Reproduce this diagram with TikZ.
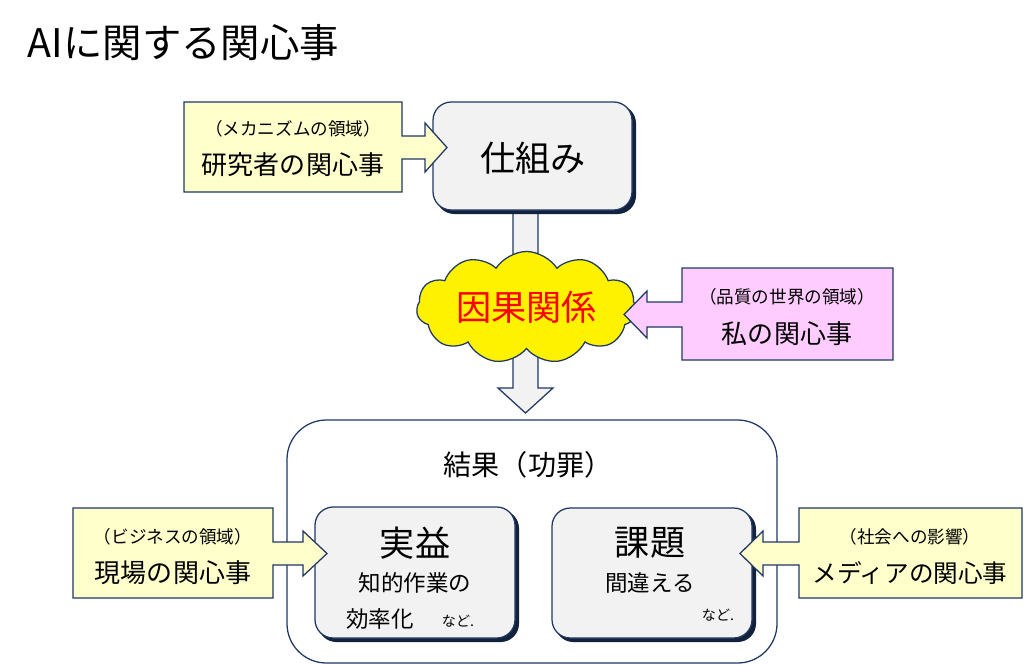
\documentclass[tikz,border=0pt]{standalone}
\usepackage{fontspec}
\setmainfont{Noto Sans CJK JP}
\usetikzlibrary{shapes.symbols}
\definecolor{navy}{HTML}{203864}
\definecolor{cream}{HTML}{FFFFCC}
\definecolor{pinky}{HTML}{FFCCFF}
\definecolor{boxgray}{HTML}{F2F2F2}
\tikzset{
  outline/.style={draw=navy, line width=0.9pt},
  callout/.style={outline, fill=cream},
  shadowbox/.style={fill=navy!60!black, rounded corners=13pt},
  graybox/.style={outline, fill=boxgray, rounded corners=13pt},
  big/.style={font=\fontsize{25}{28}\selectfont},
  mid/.style={font=\fontsize{18.5}{21}\selectfont},
  sub/.style={font=\fontsize{16}{19}\selectfont},
  small/.style={font=\fontsize{12.5}{15}\selectfont},
  tiny/.style={font=\fontsize{10}{12}\selectfont},
}
\begin{document}
\begin{tikzpicture}[x=0.025cm, y=-0.025cm]
  \useasboundingbox (0,0) rectangle (1024,664);
  %
  \node[anchor=west, font=\fontsize{28}{32}\selectfont] (title) at (23,43) {AIに関する関心事};
  %
  \draw[outline, rounded corners=28pt] (287,420) rectangle (777,663); % results frame
  %
  \draw[outline, fill=boxgray] (513,212) -- (538,212) -- (538,388) -- (553,388)
    -- (525.5,413) -- (498,388) -- (513,388) -- cycle;              % down arrow
  %
  \fill[shadowbox] (436,105) rectangle (636,214);                   % top box
  \draw[graybox] (433,102) rectangle (632,210);
  \node[big] (shikumi) at (533,158) {仕組み};
  %
  \node[cloud, cloud puffs=11, cloud puff arc=115, cloud ignores aspect,
    outline, fill=yellow, minimum width=5.5cm, minimum height=2.8cm,
    big, text=red] (inga) at (526.5,307.5) {因果関係};
  %
  \fill[shadowbox] (318,510) rectangle (519,642);                   % bottom boxes
  \draw[graybox] (315,507) rectangle (515,638);
  \fill[shadowbox] (555,511) rectangle (756,642);
  \draw[graybox] (552,508) rectangle (752,638);
  %
  \node[font=\fontsize{20}{24}\selectfont] (kekka) at (528,465) {結果（功罪）};
  \node[big] (jitsueki) at (415,543) {実益};
  \node[sub] (chiteki) at (415,583) {知的作業の};
  \node[sub] (kouritsu) at (380,619) {効率化};
  \node[tiny] (nado1) at (458,621) {など.};
  \node[big] (kadai) at (650,543) {課題};
  \node[sub] (machigai) at (650,583) {間違える};
  \node[tiny] (nado2) at (718,615) {など.};
  %
  \draw[callout] (184,102) -- (402,102) -- (402,136) -- (425,136) -- (425,123)
    -- (447,147.5) -- (425,172) -- (425,159) -- (402,159) -- (402,192)
    -- (184,192) -- cycle;                                          % researchers
  \node[small] (mecha) at (293,129) {（メカニズムの領域）};
  \node[mid] (kenkyu) at (293,165) {研究者の関心事};
  %
  \draw[callout, fill=pinky] (893,268) -- (893,360) -- (682,360) -- (682,327)
    -- (647,327) -- (647,338) -- (624,314.5) -- (647,291) -- (647,302)
    -- (682,302) -- (682,268) -- cycle;                             % mine
  \node[small] (hinshitsu) at (787,297) {（品質の世界の領域）};
  \node[mid] (watashi) at (787,334) {私の関心事};
  %
  \draw[callout] (73,508) -- (273,508) -- (273,542) -- (303,542) -- (303,531)
    -- (327,553.5) -- (303,576) -- (303,565) -- (273,565) -- (273,598)
    -- (73,598) -- cycle;                                           % business
  \node[small] (business) at (173,537) {（ビジネスの領域）};
  \node[mid] (genba) at (173,573) {現場の関心事};
  %
  \draw[callout] (1022,508) -- (1022,598) -- (799,598) -- (799,565) -- (763,565)
    -- (763,576) -- (740,553.5) -- (763,531) -- (763,542) -- (799,542)
    -- (799,508) -- cycle;                                          % media
  \node[small] (shakai) at (910,537) {（社会への影響）};
  \node[font=\fontsize{17.5}{21}\selectfont] (media) at (910,573) {メディアの関心事};
\end{tikzpicture}
\end{document}
